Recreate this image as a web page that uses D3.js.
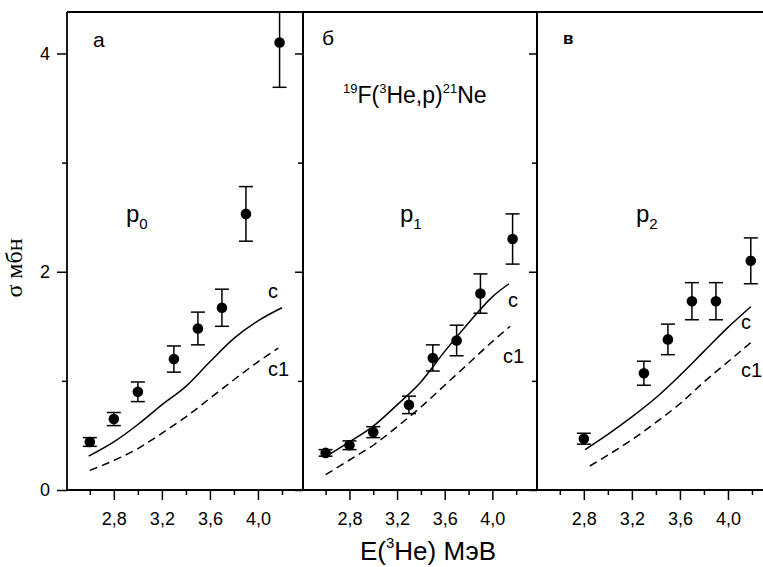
<!DOCTYPE html>
<html>
<head>
<meta charset="utf-8">
<script src="https://cdn.jsdelivr.net/npm/d3@7"></script>
<style>
  body { margin: 0; background: #fff; }
  svg { display: block; }
  text { fill: #000; }
</style>
</head>
<body>
<svg id="chart" width="763" height="567" font-family="Arial, 'Liberation Sans', sans-serif"></svg>
<script>
// ---------- DATA ----------
const panelLetters = ["а", "б", "в"];
const panelLevels = ["0", "1", "2"];

// panel а (p0)
const energyA = [2.6, 2.8, 3.0, 3.3, 3.5, 3.7, 3.9, 4.18];
const sigmaA  = [0.44, 0.65, 0.90, 1.20, 1.48, 1.67, 2.53, 4.10];
const errA    = [0.04, 0.06, 0.09, 0.12, 0.15, 0.17, 0.25, 0.41];
const curveEA  = [2.59, 2.8, 3.0, 3.2, 3.4, 3.6, 3.8, 4.0, 4.2];
const curveCA  = [0.31, 0.44, 0.60, 0.78, 0.95, 1.175, 1.39, 1.55, 1.67];
const curveE1A = [2.6, 2.8, 3.0, 3.2, 3.4, 3.6, 3.8, 4.0, 4.17];
const curveC1A = [0.18, 0.27, 0.38, 0.52, 0.67, 0.84, 1.01, 1.175, 1.30];

// panel б (p1)
const energyB = [2.6, 2.8, 3.0, 3.3, 3.5, 3.7, 3.9, 4.17];
const sigmaB  = [0.34, 0.41, 0.53, 0.78, 1.21, 1.37, 1.80, 2.30];
const errB    = [0.03, 0.04, 0.05, 0.08, 0.12, 0.14, 0.18, 0.23];
const curveEB  = [2.6, 2.8, 3.0, 3.2, 3.4, 3.6, 3.8, 4.0, 4.14];
const curveCB  = [0.305, 0.44, 0.585, 0.78, 0.99, 1.27, 1.53, 1.77, 1.89];
const curveE1B = [2.6, 2.8, 3.0, 3.2, 3.4, 3.6, 3.8, 4.0, 4.15];
const curveC1B = [0.14, 0.275, 0.41, 0.58, 0.76, 0.96, 1.16, 1.36, 1.50];

// panel в (p2)
const energyC = [2.8, 3.3, 3.5, 3.7, 3.9, 4.19];
const sigmaC  = [0.47, 1.07, 1.38, 1.73, 1.73, 2.10];
const errC    = [0.05, 0.11, 0.14, 0.17, 0.17, 0.21];
const curveEC  = [2.81, 3.0, 3.2, 3.4, 3.6, 3.8, 4.0, 4.19];
const curveCC  = [0.37, 0.51, 0.67, 0.845, 1.05, 1.27, 1.49, 1.68];
const curveE1C = [2.85, 3.0, 3.2, 3.4, 3.6, 3.8, 4.0, 4.2];
const curveC1C = [0.22, 0.32, 0.46, 0.62, 0.79, 0.99, 1.175, 1.36];

const xMajorTicks = [2.8, 3.2, 3.6, 4.0];
const xMinorTicks = [2.6, 3.0, 3.4, 3.8, 4.2];
const yMajorTicks = [0, 2, 4];
const yMinorTicks = [1, 3];
const curveLabels = ["c", "c1"];

// ---------- LAYOUT ----------
const svg = d3.select("#chart");
const yTop = 12, yBottom = 490;
const panelLeft = [67, 303, 537];
const panelWidth = [236, 234, 236];
const xDomain = [2.41, 4.375];
const y = d3.scaleLinear().domain([0, 4.38]).range([yBottom, yTop]);
const SANS = "Arial, 'Liberation Sans', sans-serif";

const panels = [
  {E: energyA, S: sigmaA, R: errA, cE: curveEA, c: curveCA, c1E: curveE1A, c1: curveC1A,
   cLab: [[268, 298], [268, 376]]},
  {E: energyB, S: sigmaB, R: errB, cE: curveEB, c: curveCB, c1E: curveE1B, c1: curveC1B,
   cLab: [[508, 307], [503, 363]]},
  {E: energyC, S: sigmaC, R: errC, cE: curveEC, c: curveCC, c1E: curveE1C, c1: curveC1C,
   cLab: [[741, 329], [741, 377]]}
];
const letterPos = [[93, 47], [322, 45], [563, 44]];
const pPos = [[126, 222], [400, 222], [636, 222]];

const fmt = d => d.toFixed(1).replace(".", ",");

panels.forEach((p, i) => {
  const x0 = panelLeft[i], w = panelWidth[i];
  const x = d3.scaleLinear().domain(xDomain).range([x0, x0 + w]);
  const g = svg.append("g");

  const clipId = "clip" + i;
  svg.append("clipPath").attr("id", clipId).append("rect")
    .attr("x", x0).attr("y", yTop).attr("width", w).attr("height", yBottom - yTop);

  const plot = g.append("g").attr("clip-path", `url(#${clipId})`);

  // curves
  const lineC = d3.line().x(d => x(d[0])).y(d => y(d[1])).curve(d3.curveMonotoneX);
  plot.append("path").datum(d3.zip(p.cE, p.c)).attr("d", lineC)
    .attr("fill", "none").attr("stroke", "#000").attr("stroke-width", 1.5);
  plot.append("path").datum(d3.zip(p.c1E, p.c1)).attr("d", lineC)
    .attr("fill", "none").attr("stroke", "#000").attr("stroke-width", 1.5)
    .attr("stroke-dasharray", "8,5");

  // error bars
  const pts = p.E.map((e, k) => ({e, s: p.S[k], r: p.R[k]}));
  const eb = plot.selectAll(".eb").data(pts).enter().append("g");
  eb.append("line")
    .attr("x1", d => x(d.e)).attr("x2", d => x(d.e))
    .attr("y1", d => y(d.s - d.r)).attr("y2", d => y(d.s + d.r))
    .attr("stroke", "#000").attr("stroke-width", 1.5);
  [-1, 1].forEach(sg => {
    eb.append("line")
      .attr("x1", d => x(d.e) - 7).attr("x2", d => x(d.e) + 7)
      .attr("y1", d => y(d.s + sg * d.r)).attr("y2", d => y(d.s + sg * d.r))
      .attr("stroke", "#000").attr("stroke-width", 1.5);
  });
  eb.append("circle").attr("cx", d => x(d.e)).attr("cy", d => y(d.s)).attr("r", 5.3)
    .attr("fill", "#000");

  // x axis
  const axMaj = d3.axisBottom(x).tickValues(xMajorTicks).tickSize(10).tickPadding(12).tickFormat(fmt);
  const axMin = d3.axisBottom(x).tickValues(xMinorTicks).tickSize(5).tickFormat("");
  const gx = g.append("g").attr("transform", `translate(0,${yBottom})`).call(axMaj);
  const gx2 = g.append("g").attr("transform", `translate(0,${yBottom})`).call(axMin);
  [gx, gx2].forEach(a => {
    a.attr("font-family", SANS).attr("font-size", 18);
    a.select(".domain").remove();
    a.selectAll("line").attr("stroke-width", 1.5);
  });

  // right-side inward y ticks (panels а and б)
  if (i < 2) {
    const ar = d3.axisLeft(y).tickValues(yMajorTicks).tickSize(8).tickFormat("");
    const ar2 = d3.axisLeft(y).tickValues(yMinorTicks).tickSize(5).tickFormat("");
    [ar, ar2].forEach(a => {
      const ga = g.append("g").attr("transform", `translate(${x0 + w},0)`).call(a);
      ga.select(".domain").remove();
      ga.selectAll("line").attr("stroke-width", 1.5);
    });
  }

  // frame lines
  g.append("line").attr("x1", x0).attr("x2", x0).attr("y1", yTop).attr("y2", yBottom)
    .attr("stroke", "#000").attr("stroke-width", 1.8);
  g.append("line").attr("x1", x0).attr("x2", x0 + w).attr("y1", yBottom).attr("y2", yBottom)
    .attr("stroke", "#000").attr("stroke-width", 1.8);
  g.append("line").attr("x1", x0).attr("x2", x0 + w).attr("y1", yTop).attr("y2", yTop)
    .attr("stroke", "#000").attr("stroke-width", 1.8);
  if (i < 2) {
    g.append("line").attr("x1", x0 + w).attr("x2", x0 + w).attr("y1", yTop).attr("y2", yBottom)
      .attr("stroke", "#000").attr("stroke-width", 1.8);
  }

  // panel letter
  g.append("text").attr("x", letterPos[i][0]).attr("y", letterPos[i][1])
    .attr("font-size", i === 2 ? 17 : 21).attr("font-weight", i === 2 ? "bold" : "normal")
    .text(panelLetters[i]);

  // p label
  const pt = g.append("text").attr("x", pPos[i][0]).attr("y", pPos[i][1]).attr("font-size", 24);
  pt.append("tspan").text("p");
  pt.append("tspan").attr("font-size", 15).attr("dy", 7).text(panelLevels[i]);

  // curve labels
  curveLabels.forEach((lab, k) => {
    g.append("text").attr("x", p.cLab[k][0]).attr("y", p.cLab[k][1]).attr("font-size", 20).text(lab);
  });
});

// y axis (left of panel а)
const ay = d3.axisLeft(y).tickValues(yMajorTicks).tickSize(10).tickPadding(7).tickFormat(d3.format("d"));
const ay2 = d3.axisLeft(y).tickValues(yMinorTicks).tickSize(5).tickFormat("");
[ay, ay2].forEach(a => {
  const ga = svg.append("g").attr("transform", `translate(${panelLeft[0]},0)`).call(a);
  ga.attr("font-family", SANS).attr("font-size", 18);
  ga.select(".domain").remove();
  ga.selectAll("line").attr("stroke-width", 1.5);
});

// y-axis title
svg.append("text")
  .attr("transform", "translate(22,268) rotate(-90)")
  .attr("text-anchor", "middle")
  .attr("font-family", "'Liberation Serif', 'Times New Roman', serif")
  .attr("font-size", 24)
  .text("σ мбн");

// reaction title
const tt = svg.append("text").attr("x", 343).attr("y", 103).attr("font-size", 23);
tt.append("tspan").attr("font-size", 13).attr("dy", -10).text("19");
tt.append("tspan").attr("dy", 10).text("F(");
tt.append("tspan").attr("font-size", 13).attr("dy", -10).text("3");
tt.append("tspan").attr("dy", 10).text("He,p)");
tt.append("tspan").attr("font-size", 13).attr("dy", -10).text("21");
tt.append("tspan").attr("dy", 10).text("Ne");

// x-axis title
const xt = svg.append("text").attr("x", 360).attr("y", 560).attr("font-size", 26);
xt.append("tspan").text("E(");
xt.append("tspan").attr("font-size", 15).attr("dy", -12).text("3");
xt.append("tspan").attr("dy", 12).text("He) МэВ");
</script>
</body>
</html>
